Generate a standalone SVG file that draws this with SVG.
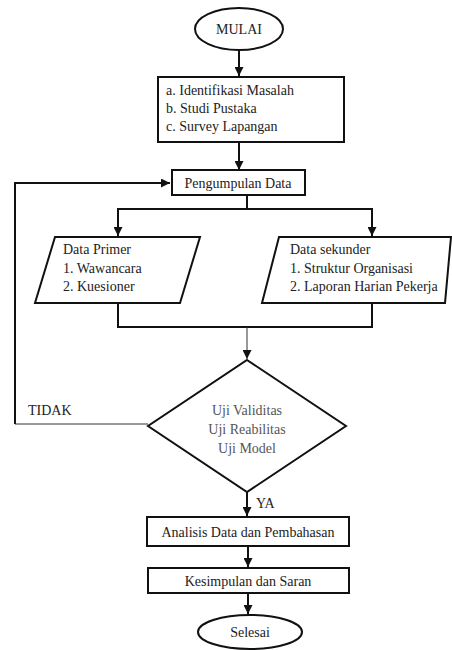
<svg xmlns="http://www.w3.org/2000/svg" width="452" height="650" viewBox="0 0 452 650" font-family="'Liberation Serif', 'DejaVu Serif', serif">
<defs>
<marker id="ah" viewBox="0 0 10 10" refX="10" refY="5" markerWidth="4.5" markerHeight="4.5" markerUnits="strokeWidth" orient="auto"><path d="M0,0 L10,5 L0,10 z" fill="#111"/></marker>
<marker id="ahs" viewBox="0 0 10 10" refX="10" refY="5" markerWidth="9" markerHeight="9" markerUnits="strokeWidth" orient="auto"><path d="M0,0 L10,5 L0,10 z" fill="#111"/></marker>
</defs>
<style>
.s{fill:#fff;stroke:#111;stroke-width:2}
.c{fill:none;stroke:#111;stroke-width:2}
.t{fill:none;stroke:#333;stroke-width:1}
text{font-family:"Liberation Serif","DejaVu Serif",serif;font-size:14px;fill:#222}
.m{text-anchor:middle}
.g{fill:#555}
</style>
<rect width="452" height="650" fill="#fff"/>
<g id="connectors">
<line class="c" x1="239" y1="50" x2="239" y2="76" marker-end="url(#ah)"/>
<line class="c" x1="239" y1="142" x2="239" y2="170" marker-end="url(#ah)"/>
<polyline class="c" points="15,424 15,183 170,183" marker-end="url(#ah)"/>
<line class="t" x1="15" y1="424" x2="148" y2="424"/>
<line class="c" x1="247" y1="195" x2="247" y2="209"/>
<line class="c" x1="117" y1="209" x2="373" y2="209"/>
<line class="c" x1="118" y1="209" x2="118" y2="236" marker-end="url(#ah)"/>
<line class="c" x1="372" y1="209" x2="372" y2="236" marker-end="url(#ah)"/>
<polyline class="c" points="118,303 118,327 372,327 372,303"/>
<line class="t" x1="247" y1="327" x2="247" y2="359" marker-end="url(#ahs)"/>
<line class="c" x1="247" y1="492" x2="247" y2="516" marker-end="url(#ah)"/>
<line class="c" x1="248" y1="546" x2="248" y2="567" marker-end="url(#ah)"/>
<line class="c" x1="248" y1="593" x2="248" y2="614" marker-end="url(#ah)"/>
<text x="28" y="415">TIDAK</text>
<text x="256" y="508">YA</text>
</g>
<g id="mulai"><ellipse class="s" cx="239" cy="29" rx="44" ry="21"/><text class="m" x="239" y="34">MULAI</text></g>
<g id="identifikasi"><rect class="s" x="158" y="77" width="186" height="65"/>
<text x="166" y="95">a.  Identifikasi Masalah</text>
<text x="166" y="113">b.  Studi Pustaka</text>
<text x="166" y="131">c.  Survey Lapangan</text></g>
<g id="pengumpulan"><rect class="s" x="172" y="170" width="133" height="25"/><text class="m" x="238" y="188">Pengumpulan Data</text></g>
<g id="primer"><polygon class="s" points="55,237 200,237 180,303 35,303"/>
<text x="63" y="254">Data Primer</text>
<text x="63" y="273">1. Wawancara</text>
<text x="63" y="291">2. Kuesioner</text></g>
<g id="sekunder"><polygon class="s" points="279,237 451,237 445,303 262,303"/>
<text x="290" y="254">Data sekunder</text>
<text x="290" y="273">1. Struktur Organisasi</text>
<text x="290" y="291">2. Laporan Harian Pekerja</text></g>
<g id="uji"><polygon class="s" points="247,360 346,426 247,492 148,426"/>
<text class="m g" x="247" y="415">Uji Validitas</text>
<text class="m g" x="247" y="434">Uji Reabilitas</text>
<text class="m g" x="247" y="453">Uji Model</text></g>
<g id="analisis"><rect class="s" x="147" y="517" width="202" height="29"/><text class="m" x="248" y="537">Analisis Data dan Pembahasan</text></g>
<g id="kesimpulan"><rect class="s" x="148" y="568" width="201" height="25"/><text class="m" x="248" y="586">Kesimpulan dan Saran</text></g>
<g id="selesai"><ellipse class="s" cx="250" cy="632" rx="52" ry="17"/><text class="m" x="250" y="637">Selesai</text></g>
</svg>
